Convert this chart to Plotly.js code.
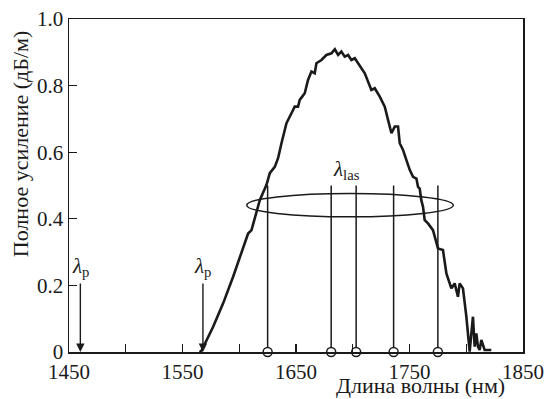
<!DOCTYPE html>
<html>
<head>
<meta charset="utf-8">
<script src="https://cdn.plot.ly/plotly-3.0.1.min.js"></script>
<style>html,body{margin:0;padding:0;background:#fff;}#chart{width:548px;height:399px;}</style>
</head>
<body>
<div id="chart"></div>
<script>
// ---- data ----
const wavelength = [1565, 1566.8, 1577.0, 1585.8, 1594.6, 1602.0, 1607.8, 1610.8, 1615.2, 1618.1, 1624.0, 1626.9, 1631.3, 1634.2, 1637.2, 1641.6, 1646.0, 1648.9, 1651.8, 1653.3, 1657.7, 1660.6, 1663.6, 1666.5, 1668.0, 1672.4, 1676.8, 1681.2, 1684.2, 1687.1, 1690.0, 1692.9, 1695.9, 1698.8, 1701.8, 1704.7, 1710.6, 1716.4, 1719.4, 1723.8, 1728.2, 1731.1, 1734.1, 1737.0, 1739.9, 1741.4, 1744.3, 1747.2, 1750.2, 1753.1, 1756.1, 1757.5, 1759.0, 1760.4, 1761.9, 1763.4, 1766.3, 1770.7, 1772.2, 1775.1, 1779.5, 1782.5, 1786.9, 1789.8, 1792.7, 1794.2, 1797.1, 1800.1, 1803.0, 1805.9, 1807.4, 1808.9, 1810.3, 1811.8, 1813.3, 1816.2, 1822.1];
const gain = [0, 0.004, 0.076, 0.146, 0.226, 0.296, 0.356, 0.366, 0.417, 0.456, 0.502, 0.537, 0.556, 0.582, 0.627, 0.687, 0.717, 0.737, 0.737, 0.757, 0.777, 0.817, 0.842, 0.837, 0.867, 0.877, 0.892, 0.897, 0.909, 0.892, 0.902, 0.887, 0.892, 0.877, 0.882, 0.867, 0.837, 0.787, 0.792, 0.767, 0.737, 0.697, 0.657, 0.677, 0.677, 0.627, 0.607, 0.577, 0.547, 0.526, 0.521, 0.496, 0.491, 0.456, 0.436, 0.396, 0.386, 0.366, 0.346, 0.311, 0.306, 0.236, 0.191, 0.206, 0.166, 0.206, 0.191, 0.106, 0.001, 0.106, 0.016, 0.056, 0.016, 0.006, 0.036, 0.006, 0.006];

const laserWavelengths = [1625, 1681, 1703, 1736, 1775];
const laserTop = 0.50;
const pumpWavelengths = [1460, 1568];
const pumpLabelY = 0.255;
const laserLabel = [1694.5, 0.547];
const ellipseBox = [1606.6, 0.406, 1788.6, 0.476]; // x0, y0, x1, y1

const xTickVals = [1450, 1550, 1650, 1750, 1850];
const xMinorTickVals = [1500, 1600, 1700, 1800];
const yTickVals = [0, 0.2, 0.4, 0.6, 0.8, 1.0];
const yTickText = ['0', '0.2', '0.4', '0.6', '0.8', '1.0'];

const xTitle = 'Длина волны (нм)';
const yTitle = 'Полное усиление (дБ/м)';

// ---- build ----
const ink = '#1a1a1a';
const FONT = 'Liberation Serif';

const lx = [], ly = [];
laserWavelengths.forEach(w => { lx.push(w, w, null); ly.push(0, laserTop, null); });

const traces = [
  {x: wavelength, y: gain, mode: 'lines', line: {color: ink, width: 2.6}, hoverinfo: 'skip'},
  {x: lx, y: ly, mode: 'lines', line: {color: ink, width: 1.5}, hoverinfo: 'skip'},
  {x: laserWavelengths, y: laserWavelengths.map(() => 0), mode: 'markers', cliponaxis: false,
   marker: {symbol: 'circle', size: 9, color: '#fff', line: {color: ink, width: 1.5}}, hoverinfo: 'skip'}
];

const annotations = [];
pumpWavelengths.forEach(w => {
  annotations.push({x: w, y: 0, ax: w, ay: pumpLabelY, xref: 'x', yref: 'y', axref: 'x', ayref: 'y',
    showarrow: true, arrowhead: 2, arrowsize: 1.2, arrowwidth: 1.4, arrowcolor: ink, standoff: 0, startstandoff: 2,
    text: '<i>λ</i><sub>p</sub>', font: {family: FONT, size: 21, color: ink}});
});
annotations.push({x: laserLabel[0], y: laserLabel[1], xref: 'x', yref: 'y', showarrow: false,
  text: '<i>λ</i><sub>las</sub>', font: {family: FONT, size: 21, color: ink}});
annotations.push({x: 0.774, y: -0.1, xref: 'paper', yref: 'paper', showarrow: false, xanchor: 'center', yanchor: 'middle',
  text: xTitle, font: {family: FONT, size: 22, color: ink}});
annotations.push({x: -0.105, y: 0.625, xref: 'paper', yref: 'paper', showarrow: false, xanchor: 'center', yanchor: 'middle',
  textangle: -90, text: yTitle, font: {family: FONT, size: 22, color: ink}});

const layout = {
  width: 548, height: 399,
  margin: {l: 69, r: 25, t: 19, b: 47},
  paper_bgcolor: '#fff', plot_bgcolor: '#fff',
  showlegend: false,
  font: {family: FONT, size: 21, color: ink},
  xaxis: {range: [1450, 1850], tickmode: 'array', tickvals: xTickVals, ticks: 'inside', ticklen: 8,
    tickwidth: 1.3, tickcolor: ink, showline: true, linecolor: ink, linewidth: 1.5, mirror: true,
    minor: {tickmode: 'array', tickvals: xMinorTickVals, ticks: 'inside', ticklen: 8, tickwidth: 1.3, tickcolor: ink, showgrid: false},
    showgrid: false, zeroline: false, tickfont: {family: FONT, size: 21, color: ink}},
  yaxis: {range: [0, 1.0], tickmode: 'array', tickvals: yTickVals, ticktext: yTickText, ticks: 'inside', ticklen: 8,
    tickwidth: 1.3, tickcolor: ink, showline: true, linecolor: ink, linewidth: 1.5, mirror: true,
    showgrid: false, zeroline: false, tickfont: {family: FONT, size: 21, color: ink}},
  shapes: [{type: 'circle', xref: 'x', yref: 'y', x0: ellipseBox[0], y0: ellipseBox[1], x1: ellipseBox[2], y1: ellipseBox[3],
    line: {color: ink, width: 1.5}, fillcolor: 'rgba(0,0,0,0)'}],
  annotations: annotations
};

Plotly.newPlot('chart', traces, layout, {staticPlot: true, displayModeBar: false});
</script>
</body>
</html>
